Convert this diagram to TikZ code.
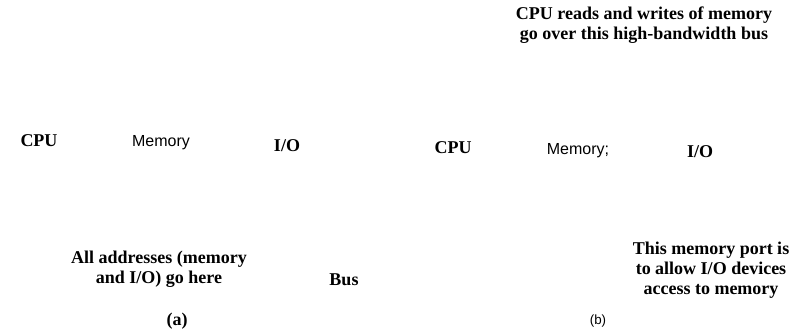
\documentclass[tikz,border=0pt]{standalone}
\usepackage{fontspec}
\setmainfont{Liberation Serif}
\setsansfont{Liberation Sans}
\begin{document}
\begin{tikzpicture}[x=0.75pt,y=-0.75pt,
  lbl/.style={font=\fontsize{13.5}{15}\selectfont\bfseries, align=center, inner sep=0pt},
  sanslbl/.style={font=\fontsize{12}{14}\sffamily, inner sep=0pt},
  caplbl/.style={font=\fontsize{10}{12}\sffamily, inner sep=0pt}]
\useasboundingbox (0,0) rectangle (796,334);
% (a)
\node[lbl] (cpua) at (39,141) {CPU};
\node[sanslbl] (mema) at (161,143) {Memory};
\node[lbl] (ioa) at (287,146) {I/O};
\node[lbl] (addr) at (159,269) {All addresses (memory\\and I/O) go here};
\node[lbl] (bus) at (344,280) {Bus};
\node[lbl] (capa) at (177,321) {(a)};
% (b)
\node[lbl] (top) at (644,25) {CPU reads and writes of memory\\go over this high-bandwidth bus};
\node[lbl] (cpub) at (453,148) {CPU};
\node[sanslbl] (memb) at (578,151) {Memory;};
\node[lbl] (iob) at (700,152) {I/O};
\node[lbl] (port) at (711,270) {This memory port is\\to allow I/O devices\\access to memory};
\node[caplbl] (capb) at (598,321) {(b)};
\end{tikzpicture}
\end{document}
